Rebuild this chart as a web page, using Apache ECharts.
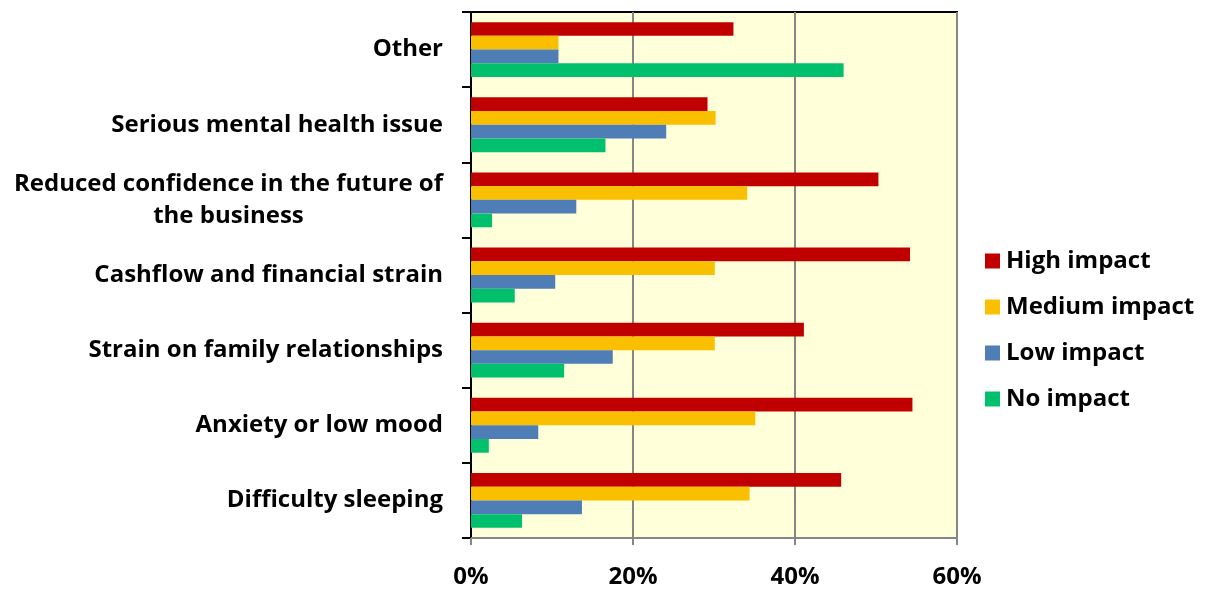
<!DOCTYPE html>
<html>
<head>
<meta charset="utf-8">
<script src="https://cdn.jsdelivr.net/npm/echarts@6/dist/echarts.min.js"></script>
<style>
  html, body { margin: 0; padding: 0; background: #fff; }
  #chart { width: 1205px; height: 594px; }
</style>
</head>
<body>
<div id="chart"></div>
<script>
// Impact categories, listed top to bottom
const categories = [
  'Other',
  'Serious mental health issue',
  'Reduced confidence in the future of\nthe business',
  'Cashflow and financial strain',
  'Strain on family relationships',
  'Anxiety or low mood',
  'Difficulty sleeping'
];

// Share of respondents (%) for each impact level, same order as categories
const highImpact   = [32.4, 29.2, 50.3, 54.2, 41.1, 54.5, 45.7];
const mediumImpact = [10.8, 30.2, 34.1, 30.1, 30.1, 35.1, 34.4];
const lowImpact    = [10.8, 24.1, 13.0, 10.4, 17.5,  8.3, 13.7];
const noImpact     = [46.0, 16.6,  2.6,  5.4, 11.5,  2.2,  6.3];

const seriesNames = ['High impact', 'Medium impact', 'Low impact', 'No impact'];
const seriesColors = ['#C00000', '#FAC000', '#4F7DB6', '#00C06E'];

const FONT = '"Open Sans", "Noto Sans", sans-serif';
const FS = 24;

const chart = echarts.init(document.getElementById('chart'), null, { renderer: 'canvas' });

const seriesData = [highImpact, mediumImpact, lowImpact, noImpact];

chart.setOption({
  animation: false,
  backgroundColor: '#ffffff',
  grid: {
    left: 471, top: 12, right: 248, bottom: 56,
    show: true,
    backgroundColor: '#FFFFD9',
    borderColor: '#000000',
    borderWidth: 2
  },
  legend: {
    orient: 'vertical',
    left: 980,
    top: 244,
    itemWidth: 15,
    itemHeight: 15,
    itemGap: 22,
    icon: 'rect',
    data: seriesNames,
    textStyle: { fontFamily: FONT, fontSize: FS, fontWeight: 'bold', color: '#000', padding: [0, 0, 0, 1] }
  },
  xAxis: {
    type: 'value',
    min: 0, max: 60, interval: 20,
    axisLine: { show: true, lineStyle: { color: '#868686', width: 2 } },
    axisTick: { show: true, length: 7, lineStyle: { color: '#868686', width: 2 } },
    splitLine: { show: true, lineStyle: { color: '#868686', width: 2 } },
    axisLabel: {
      formatter: '{value}%',
      margin: 27,
      fontFamily: FONT, fontSize: FS, fontWeight: 'bold', color: '#000'
    }
  },
  yAxis: {
    type: 'category',
    inverse: true,
    data: categories,
    axisLine: { show: true, lineStyle: { color: '#000', width: 2 } },
    axisTick: { show: true, length: 9, inside: false, lineStyle: { color: '#000', width: 2 } },
    axisLabel: {
      margin: 28,
      fontFamily: FONT, fontSize: FS, fontWeight: 'bold', color: '#000',
      lineHeight: 32,
      formatter: function (v) {
        if (v.indexOf('\n') < 0) return v;
        // centre each line of a wrapped label under the longest one
        return v.split('\n').map(function (s) { return '{c|' + s + '}'; }).join('\n');
      },
      rich: {
        c: { align: 'center', fontFamily: FONT, fontSize: FS, fontWeight: 'bold', color: '#000', lineHeight: 32 }
      }
    }
  },
  series: seriesNames.map(function (name, i) {
    return {
      name: name,
      type: 'bar',
      data: seriesData[i],
      barGap: '0%',
      barCategoryGap: '27%',
      itemStyle: { color: seriesColors[i] }
    };
  })
});
</script>
</body>
</html>
